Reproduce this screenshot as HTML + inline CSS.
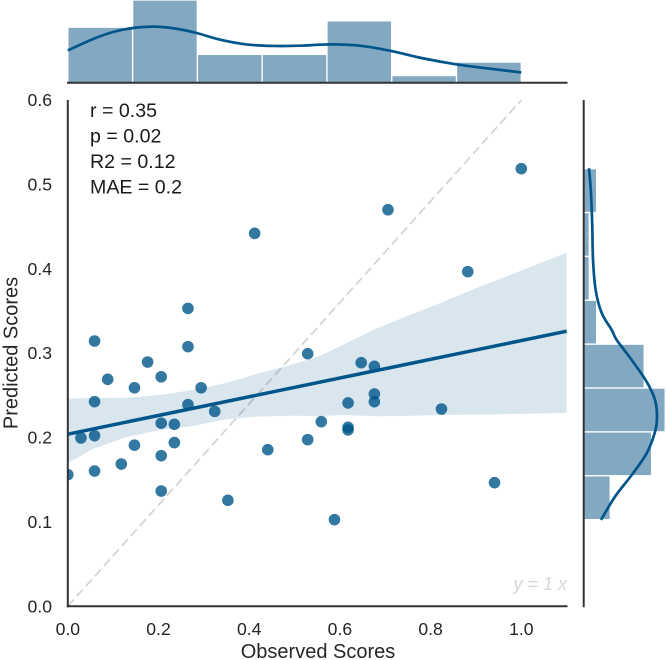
<!DOCTYPE html>
<html lang="en">
<head>
<meta charset="utf-8">
<title>Observed vs Predicted Scores</title>
<style>
html,body{margin:0;padding:0;background:#fff;}
svg{display:block;font-family:"Liberation Sans",Arial,sans-serif;}
</style>
</head>
<body>
<svg id="chart" xmlns="http://www.w3.org/2000/svg" width="666" height="660" viewBox="0 0 666 660">
<defs><clipPath id="plot-clip"><rect x="67.8" y="90" width="499.2" height="516.3"></rect></clipPath></defs>
<rect x="0" y="0" width="666" height="660" fill="#ffffff"></rect>
<g id="layer-top"></g>
<g id="layer-right"></g>
<g id="layer-main"></g>
<g id="layer-axes"></g>
<text x="90" y="117" font-size="19.6" fill="#1a1a1a">r = 0.35</text>
<text x="90" y="142.5" font-size="19.6" fill="#1a1a1a">p = 0.02</text>
<text x="90" y="168" font-size="19.6" fill="#1a1a1a">R2 = 0.12</text>
<text x="90" y="193.5" font-size="19.6" fill="#1a1a1a">MAE = 0.2</text>
<text x="567" y="590" text-anchor="end" font-size="18" font-style="italic" fill="#d6d6d6">y = 1 x</text>
<text x="318" y="658" text-anchor="middle" font-size="20" fill="#262626">Observed Scores</text>
<text transform="translate(17.5,353) rotate(-90)" text-anchor="middle" font-size="20" fill="#262626">Predicted Scores</text>
</svg>
<script>
const observed = [0,0.029,0.059,0.059,0.059,0.059,0.088,0.118,0.147,0.147,0.176,0.206,0.206,0.206,0.206,0.235,0.235,0.265,0.265,0.265,0.294,0.324,0.353,0.412,0.441,0.529,0.529,0.559,0.588,0.618,0.618,0.618,0.647,0.676,0.676,0.676,0.706,0.824,0.882,0.941,1.0];
const predicted = [0.156,0.1995,0.3144,0.2425,0.2022,0.1603,0.269,0.1686,0.259,0.191,0.2895,0.272,0.217,0.1785,0.1366,0.2157,0.194,0.3077,0.239,0.353,0.259,0.231,0.1256,0.442,0.1856,0.2994,0.1975,0.2188,0.1027,0.241,0.2121,0.209,0.2887,0.2844,0.2516,0.2425,0.47,0.2338,0.3966,0.1465,0.5186];
const regX = [0,1.1];
const regY = [0.204,0.326];
const ciX = [0,0.055,0.13,0.203,0.276,0.351,0.424,0.497,0.556,0.607,0.682,0.755,0.827,0.902,0.975,1.048,1.1];
const ciUpper = [0.246,0.2469,0.2472,0.2504,0.2563,0.265,0.2765,0.2868,0.2966,0.31,0.3298,0.3453,0.3606,0.3773,0.3927,0.408,0.419];
const ciLower = [0.17,0.1864,0.2006,0.209,0.2137,0.222,0.225,0.2259,0.2255,0.2267,0.2252,0.2259,0.2267,0.2271,0.2279,0.2287,0.2294];
const identityX = [0,1];
const identityY = [0,0.6];
const topHistEdges = [0,0.1429,0.2857,0.4286,0.5714,0.7143,0.8571,1];
const topHistCounts = [6,9,3,3,6.7,0.66,2.15];
const topKdeX = [0,0.056,0.1,0.144,0.192,0.24,0.284,0.336,0.394,0.453,0.512,0.556,0.593,0.644,0.71,0.784,0.858,0.931,1];
const topKdeY = [3.51,4.77,5.54,5.98,6.13,5.9,5.43,4.69,4.17,4,4.03,4.14,4.17,4.03,3.48,2.63,1.96,1.49,1.08];
const rightHistEdges = [0.1027,0.1547,0.2067,0.2587,0.3107,0.3627,0.4147,0.4667,0.5187];
const rightHistCounts = [4.2,10.9,13.1,9.7,2,0.8,0.8,2];
const rightKdeY = [0.1023,0.1299,0.1556,0.1813,0.2069,0.2247,0.2445,0.2662,0.2919,0.3156,0.3275,0.3476,0.3748,0.4104,0.4499,0.4898,0.5191];
const rightKdeX = [2.8,5.07,7.78,10.2,11.56,11.88,11.56,10.2,7.78,5.35,4.54,2.92,1.94,1.51,1.39,1.18,0.86];
const xTicks = [0,0.2,0.4,0.6,0.8,1];
const xTickLabels = ["0.0","0.2","0.4","0.6","0.8","1.0"];
const yTicks = [0,0.1,0.2,0.3,0.4,0.5,0.6];
const yTickLabels = ["0.0","0.1","0.2","0.3","0.4","0.5","0.6"];

const NS = "http://www.w3.org/2000/svg";
const BLUE = "#00568a";
const BAR = "#83a8c2";
const sx = function (v) { return 67.8 + v * 453.5; };
const sy = function (v) { return 606.3 - v * 843.8; };
const topBase = 82.2;
const topH = function (v) { return topBase - v * 9.06; };
const rightBase = 583.7;
const rightW = function (v) { return rightBase + v * 6.17; };

function make(tag, attrs, parent) {
  const el = document.createElementNS(NS, tag);
  Object.keys(attrs).forEach(function (k) { el.setAttribute(k, attrs[k]); });
  parent.appendChild(el);
  return el;
}
function smooth(pts) {
  let d = "M" + pts[0][0].toFixed(2) + " " + pts[0][1].toFixed(2);
  for (let i = 0; i < pts.length - 1; i++) {
    const p0 = pts[Math.max(i - 1, 0)], p1 = pts[i], p2 = pts[i + 1], p3 = pts[Math.min(i + 2, pts.length - 1)];
    const c1x = p1[0] + (p2[0] - p0[0]) / 6, c1y = p1[1] + (p2[1] - p0[1]) / 6;
    const c2x = p2[0] - (p3[0] - p1[0]) / 6, c2y = p2[1] - (p3[1] - p1[1]) / 6;
    d += "C" + c1x.toFixed(2) + " " + c1y.toFixed(2) + " " + c2x.toFixed(2) + " " + c2y.toFixed(2) + " " + p2[0].toFixed(2) + " " + p2[1].toFixed(2);
  }
  return d;
}

const layerTop = document.getElementById("layer-top");
const layerRight = document.getElementById("layer-right");
const layerMain = document.getElementById("layer-main");
const layerAxes = document.getElementById("layer-axes");

topHistCounts.forEach(function (c, i) {
  const x0 = sx(topHistEdges[i]), x1 = sx(topHistEdges[i + 1]);
  const bar = make("rect", { x: x0 + 0.7, y: topH(c), width: x1 - x0 - 1.4, height: topBase - topH(c), fill: BAR }, layerTop);
  
  
});
const topKde = make("path", { d: smooth(topKdeX.map(function (x, i) { return [sx(x), topH(topKdeY[i])]; })), fill: "none", stroke: BLUE, "stroke-width": 2.7 }, layerTop);



rightHistCounts.forEach(function (c, i) {
  const y0 = sy(rightHistEdges[i]), y1 = sy(rightHistEdges[i + 1]);
  const bar = make("rect", { x: rightBase, y: y1 + 0.7, width: rightW(c) - rightBase, height: y0 - y1 - 1.4, fill: BAR }, layerRight);
  
  
});
const rightKde = make("path", { d: smooth(rightKdeY.map(function (y, i) { return [rightW(rightKdeX[i]), sy(y)]; })), fill: "none", stroke: BLUE, "stroke-width": 2.7 }, layerRight);



const identity = make("line", { x1: sx(identityX[0]), y1: sy(identityY[0]), x2: sx(identityX[1]), y2: sy(identityY[1]), stroke: "#d2d2d2", "stroke-width": 1.7, "stroke-dasharray": "9 4.5" }, layerMain);



const pointGroup = make("g", { "clip-path": "url(#plot-clip)" }, layerMain);


observed.forEach(function (x, i) {
  const pt = make("circle", { cx: sx(x), cy: sy(predicted[i]), r: 5.8, fill: BLUE, "fill-opacity": 0.8 }, pointGroup);
  
  
});

const upperPts = ciX.map(function (x, i) { return sx(x).toFixed(2) + "," + sy(ciUpper[i]).toFixed(2); });
const lowerPts = ciX.map(function (x, i) { return sx(x).toFixed(2) + "," + sy(ciLower[i]).toFixed(2); }).reverse();
const band = make("polygon", { points: upperPts.concat(lowerPts).join(" "), fill: BLUE, "fill-opacity": 0.15 }, layerMain);



const reg = make("line", { x1: sx(regX[0]), y1: sy(regY[0]), x2: sx(regX[1]), y2: sy(regY[1]), stroke: BLUE, "stroke-width": 3.5 }, layerMain);



const spineColor = "#333333";
const spineLeft = make("line", { x1: 67.8, y1: 100, x2: 67.8, y2: 607.3, stroke: spineColor, "stroke-width": 2 }, layerAxes);


const spineBottom = make("line", { x1: 66.8, y1: 606.3, x2: 567.5, y2: 606.3, stroke: spineColor, "stroke-width": 2 }, layerAxes);


const spineTop = make("line", { x1: 67, y1: 82.7, x2: 567.5, y2: 82.7, stroke: spineColor, "stroke-width": 2 }, layerAxes);


const spineRight = make("line", { x1: 583.7, y1: 100, x2: 583.7, y2: 607.3, stroke: spineColor, "stroke-width": 2 }, layerAxes);



xTicks.forEach(function (v, i) {
  const t = make("text", { x: sx(v), y: 635, "text-anchor": "middle", "font-size": 17.6, fill: "#262626" }, layerAxes);
  t.textContent = xTickLabels[i];
  
  
});
yTicks.forEach(function (v, i) {
  const t = make("text", { x: 52, y: sy(v) + 6, "text-anchor": "end", "font-size": 17.6, fill: "#262626" }, layerAxes);
  t.textContent = yTickLabels[i];
  
  
});
</script>
</body>
</html>
